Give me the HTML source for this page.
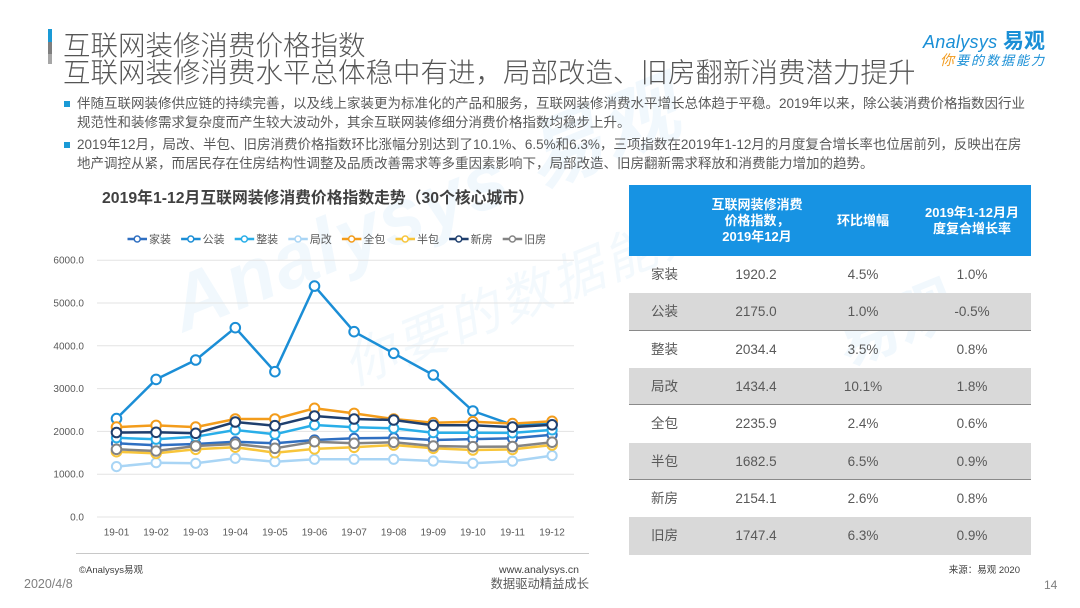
<!DOCTYPE html>
<html><head><meta charset="utf-8">
<style>
*{margin:0;padding:0;box-sizing:border-box}
html,body{width:1080px;height:608px;overflow:hidden;background:#fff}
body{position:relative;font-family:"Liberation Sans","Noto Sans CJK SC",sans-serif;color:#595959}
.a{position:absolute;white-space:nowrap}
.t{font-size:27.5px;line-height:30px;color:#555;left:63px;font-weight:300}
.b{font-size:13.5px;line-height:18px;left:77px;color:#595959}
.sq{position:absolute;left:64px;width:6px;height:6px;background:#1a9ad6}
.row{position:absolute;left:629px;width:402px;height:37.3px;font-size:13.5px;color:#595959}
.row span{position:absolute;top:0;line-height:37.3px}
.g{background:#d9d9d9}
.bl{border-bottom:1.5px solid #8a8a8a}
.c1{left:22px}
.c2{left:87px;width:80px;text-align:center}
.c3{left:194px;width:80px;text-align:center}
.c4{left:303px;width:80px;text-align:center}
.hd{position:absolute;color:#fff;font-weight:bold;font-size:13px;line-height:16px;text-align:center}
</style></head><body>

<!-- watermark -->
<div class="a" style="left:150px;top:250px;transform:rotate(-22deg);transform-origin:0 0;font-size:78px;font-style:italic;font-weight:bold;color:#f1f8fd;letter-spacing:2px">Analysys 易观</div>
<div class="a" style="left:330px;top:330px;transform:rotate(-22deg);transform-origin:0 0;font-size:52px;font-style:italic;color:#f3f9fd;letter-spacing:4px">你要的数据能力</div>
<div class="a" style="left:820px;top:300px;transform:rotate(-22deg);transform-origin:0 0;font-size:62px;font-weight:bold;color:#f1f8fd">易观</div>

<!-- header bar -->
<div class="a" style="left:48px;top:29px;width:4px;height:13px;background:#1a9ad6"></div>
<div class="a" style="left:48px;top:42px;width:4px;height:12px;background:#7f7f7f"></div>
<div class="a" style="left:48px;top:54px;width:4px;height:10px;background:#a6a6a6"></div>

<div class="a t" style="top:30.5px">互联网装修消费价格指数</div>
<div class="a t" style="top:57.5px">互联网装修消费水平总体稳中有进，局部改造、旧房翻新消费潜力提升</div>

<!-- logo -->
<div class="a" style="left:923px;top:30px;font-size:18px;line-height:24px;font-style:italic;color:#1a8fd6;letter-spacing:0.3px">Analysys</div>
<div class="a" style="left:1003px;top:29px;font-size:21px;line-height:26px;font-weight:bold;color:#1a8fd6">易观</div>
<div class="a" style="left:940px;top:51px;font-size:13px;line-height:18px;font-style:italic;color:#1a8fd6;letter-spacing:2px"><span style="color:#f29b1d;font-size:14px">你</span>要的数据能力</div>

<!-- bullets -->
<div class="sq" style="top:101px"></div>
<div class="a b" style="top:95px">伴随互联网装修供应链的持续完善，以及线上家装更为标准化的产品和服务，互联网装修消费水平增长总体趋于平稳。2019年以来，除公装消费价格指数因行业</div>
<div class="a b" style="top:114px">规范性和装修需求复杂度而产生较大波动外，其余互联网装修细分消费价格指数均稳步上升。</div>
<div class="sq" style="top:142px"></div>
<div class="a b" style="top:136px">2019年12月，局改、半包、旧房消费价格指数环比涨幅分别达到了10.1%、6.5%和6.3%，三项指数在2019年1-12月的月度复合增长率也位居前列，反映出在房</div>
<div class="a b" style="top:155px">地产调控从紧，而居民存在住房结构性调整及品质改善需求等多重因素影响下，局部改造、旧房翻新需求释放和消费能力增加的趋势。</div>

<!-- chart title -->
<div class="a" style="left:102px;top:188px;font-size:15.8px;line-height:21px;font-weight:bold;color:#404040">2019年1-12月互联网装修消费价格指数走势（30个核心城市）</div>

<svg class="a" style="left:0;top:0" width="1080" height="608" viewBox="0 0 1080 608">
<defs>
<marker id="m1" markerWidth="14" markerHeight="14" refX="7" refY="7" markerUnits="userSpaceOnUse"><circle cx="7" cy="7" r="4.6" fill="#fff" stroke="#2f6fc1" stroke-width="2"/></marker>
<marker id="m2" markerWidth="14" markerHeight="14" refX="7" refY="7" markerUnits="userSpaceOnUse"><circle cx="7" cy="7" r="4.8" fill="#fff" stroke="#1b8ed6" stroke-width="2"/></marker>
<marker id="m3" markerWidth="14" markerHeight="14" refX="7" refY="7" markerUnits="userSpaceOnUse"><circle cx="7" cy="7" r="4.6" fill="#fff" stroke="#29aee8" stroke-width="2"/></marker>
<marker id="m4" markerWidth="14" markerHeight="14" refX="7" refY="7" markerUnits="userSpaceOnUse"><circle cx="7" cy="7" r="4.6" fill="#fff" stroke="#a9d5f5" stroke-width="2"/></marker>
<marker id="m5" markerWidth="14" markerHeight="14" refX="7" refY="7" markerUnits="userSpaceOnUse"><circle cx="7" cy="7" r="4.8" fill="#fff" stroke="#f39c1b" stroke-width="2"/></marker>
<marker id="m6" markerWidth="14" markerHeight="14" refX="7" refY="7" markerUnits="userSpaceOnUse"><circle cx="7" cy="7" r="4.8" fill="#fff" stroke="#f8c53a" stroke-width="2"/></marker>
<marker id="m7" markerWidth="14" markerHeight="14" refX="7" refY="7" markerUnits="userSpaceOnUse"><circle cx="7" cy="7" r="4.8" fill="#fff" stroke="#1f3f6e" stroke-width="2"/></marker>
<marker id="m8" markerWidth="14" markerHeight="14" refX="7" refY="7" markerUnits="userSpaceOnUse"><circle cx="7" cy="7" r="4.8" fill="#fff" stroke="#848484" stroke-width="2"/></marker>
</defs>

<!-- gridlines -->
<g stroke="#e3e3e3" stroke-width="1">
<line x1="97" y1="260.2" x2="574" y2="260.2"/>
<line x1="97" y1="303" x2="574" y2="303"/>
<line x1="97" y1="345.8" x2="574" y2="345.8"/>
<line x1="97" y1="388.6" x2="574" y2="388.6"/>
<line x1="97" y1="431.4" x2="574" y2="431.4"/>
<line x1="97" y1="474.2" x2="574" y2="474.2"/>
<line x1="97" y1="517" x2="574" y2="517"/>
</g>

<g font-family="Liberation Sans, sans-serif" font-size="10" fill="#595959" text-anchor="end">
<text x="84" y="263.7">6000.0</text>
<text x="84" y="306.5">5000.0</text>
<text x="84" y="349.3">4000.0</text>
<text x="84" y="392.1">3000.0</text>
<text x="84" y="434.9">2000.0</text>
<text x="84" y="477.7">1000.0</text>
<text x="84" y="520.5">0.0</text>
</g>
<g font-family="Liberation Sans, sans-serif" font-size="10" fill="#595959" text-anchor="middle">
<text x="116.5" y="535.5">19-01</text>
<text x="156.1" y="535.5">19-02</text>
<text x="195.7" y="535.5">19-03</text>
<text x="235.3" y="535.5">19-04</text>
<text x="274.9" y="535.5">19-05</text>
<text x="314.5" y="535.5">19-06</text>
<text x="354.1" y="535.5">19-07</text>
<text x="393.7" y="535.5">19-08</text>
<text x="433.3" y="535.5">19-09</text>
<text x="472.9" y="535.5">19-10</text>
<text x="512.5" y="535.5">19-11</text>
<text x="552.1" y="535.5">19-12</text>
</g>

<g fill="none" stroke-width="2.5" stroke-linejoin="round">
<polyline stroke="#2f6fc1" marker-start="url(#m1)" marker-mid="url(#m1)" marker-end="url(#m1)" points="116.5,443.3 156.1,445.3 195.7,444.0 235.3,441.7 274.9,443.3 314.5,440.0 354.1,438.3 393.7,437.8 433.3,440.0 472.9,439.1 512.5,438.3 552.1,434.8"/>
<polyline stroke="#1b8ed6" marker-start="url(#m2)" marker-mid="url(#m2)" marker-end="url(#m2)" points="116.5,418.6 156.1,379.4 195.7,360.0 235.3,327.7 274.9,371.7 314.5,286.1 354.1,331.7 393.7,353.3 433.3,375.0 472.9,411.0 512.5,424.9 552.1,423.9"/>
<polyline stroke="#29aee8" marker-start="url(#m3)" marker-mid="url(#m3)" marker-end="url(#m3)" points="116.5,437.8 156.1,439.3 195.7,436.7 235.3,430.0 274.9,434.3 314.5,425.0 354.1,427.3 393.7,428.3 433.3,432.7 472.9,432.7 512.5,432.9 552.1,429.9"/>
<polyline stroke="#a9d5f5" marker-start="url(#m4)" marker-mid="url(#m4)" marker-end="url(#m4)" points="116.5,466.6 156.1,462.7 195.7,463.3 235.3,458.3 274.9,461.7 314.5,459.3 354.1,459.3 393.7,459.3 433.3,461.0 472.9,463.3 512.5,461.2 552.1,455.6"/>
<polyline stroke="#f39c1b" marker-start="url(#m5)" marker-mid="url(#m5)" marker-end="url(#m5)" points="116.5,427.1 156.1,425.4 195.7,427.1 235.3,419.0 274.9,419.0 314.5,408.3 354.1,413.4 393.7,419.0 433.3,422.7 472.9,421.7 512.5,423.6 552.1,421.3"/>
<polyline stroke="#f8c53a" marker-start="url(#m6)" marker-mid="url(#m6)" marker-end="url(#m6)" points="116.5,451.7 156.1,453.4 195.7,449.3 235.3,447.2 274.9,452.7 314.5,448.9 354.1,447.3 393.7,445.0 433.3,448.3 472.9,450.0 512.5,449.4 552.1,445.0"/>
<polyline stroke="#1f3f6e" marker-start="url(#m7)" marker-mid="url(#m7)" marker-end="url(#m7)" points="116.5,432.5 156.1,432.3 195.7,433.3 235.3,422.0 274.9,425.7 314.5,416.0 354.1,419.0 393.7,420.0 433.3,425.3 472.9,425.3 512.5,427.1 552.1,424.8"/>
<polyline stroke="#848484" marker-start="url(#m8)" marker-mid="url(#m8)" marker-end="url(#m8)" points="116.5,449.3 156.1,451.0 195.7,446.0 235.3,444.0 274.9,448.3 314.5,441.7 354.1,443.3 393.7,442.3 433.3,446.0 472.9,446.7 512.5,446.6 552.1,442.2"/>
</g>

<!-- legend -->
<g stroke-width="2.5">
<line x1="127.5" y1="239" x2="147" y2="239" stroke="#2f6fc1"/><circle cx="137.2" cy="239" r="3" fill="#fff" stroke="#2f6fc1" stroke-width="1.5"/>
<line x1="181.1" y1="239" x2="200.6" y2="239" stroke="#1b8ed6"/><circle cx="190.8" cy="239" r="3" fill="#fff" stroke="#1b8ed6" stroke-width="1.5"/>
<line x1="234.7" y1="239" x2="254.2" y2="239" stroke="#29aee8"/><circle cx="244.4" cy="239" r="3" fill="#fff" stroke="#29aee8" stroke-width="1.5"/>
<line x1="288.3" y1="239" x2="307.8" y2="239" stroke="#a9d5f5"/><circle cx="298" cy="239" r="3" fill="#fff" stroke="#a9d5f5" stroke-width="1.5"/>
<line x1="341.9" y1="239" x2="361.4" y2="239" stroke="#f39c1b"/><circle cx="351.6" cy="239" r="3" fill="#fff" stroke="#f39c1b" stroke-width="1.5"/>
<line x1="395.5" y1="239" x2="415" y2="239" stroke="#f8c53a"/><circle cx="405.2" cy="239" r="3" fill="#fff" stroke="#f8c53a" stroke-width="1.5"/>
<line x1="449.1" y1="239" x2="468.6" y2="239" stroke="#1f3f6e"/><circle cx="458.8" cy="239" r="3" fill="#fff" stroke="#1f3f6e" stroke-width="1.5"/>
<line x1="502.7" y1="239" x2="522.2" y2="239" stroke="#848484"/><circle cx="512.4" cy="239" r="3" fill="#fff" stroke="#848484" stroke-width="1.5"/>
</g>
<g font-family="Liberation Sans, Noto Sans CJK SC, sans-serif" font-size="11" fill="#595959">
<text x="149" y="242.8">家装</text>
<text x="202.6" y="242.8">公装</text>
<text x="256.2" y="242.8">整装</text>
<text x="309.8" y="242.8">局改</text>
<text x="363.4" y="242.8">全包</text>
<text x="417" y="242.8">半包</text>
<text x="470.6" y="242.8">新房</text>
<text x="524.2" y="242.8">旧房</text>
</g>
</svg>

<!-- table -->
<div class="a" style="left:629px;top:185px;width:402px;height:71px;background:#1793e3"></div>
<div class="hd" style="left:696px;top:197px;width:122px">互联网装修消费<br>价格指数，<br>2019年12月</div>
<div class="hd" style="left:813px;top:213px;width:100px">环比增幅</div>
<div class="hd" style="left:912px;top:205px;width:120px">2019年1-12月月<br>度复合增长率</div>

<div class="row" style="top:256px"><span class="c1">家装</span><span class="c2">1920.2</span><span class="c3">4.5%</span><span class="c4">1.0%</span></div>
<div class="row g bl" style="top:293.3px"><span class="c1">公装</span><span class="c2">2175.0</span><span class="c3">1.0%</span><span class="c4">-0.5%</span></div>
<div class="row" style="top:330.7px"><span class="c1">整装</span><span class="c2">2034.4</span><span class="c3">3.5%</span><span class="c4">0.8%</span></div>
<div class="row g bl" style="top:368px"><span class="c1">局改</span><span class="c2">1434.4</span><span class="c3">10.1%</span><span class="c4">1.8%</span></div>
<div class="row" style="top:405.3px"><span class="c1">全包</span><span class="c2">2235.9</span><span class="c3">2.4%</span><span class="c4">0.6%</span></div>
<div class="row g bl" style="top:442.7px"><span class="c1">半包</span><span class="c2">1682.5</span><span class="c3">6.5%</span><span class="c4">0.9%</span></div>
<div class="row" style="top:480px"><span class="c1">新房</span><span class="c2">2154.1</span><span class="c3">2.6%</span><span class="c4">0.8%</span></div>
<div class="row g" style="top:517.3px"><span class="c1">旧房</span><span class="c2">1747.4</span><span class="c3">6.3%</span><span class="c4">0.9%</span></div>

<div class="a" style="right:60px;top:564px;font-size:9.5px;line-height:14px;color:#404040">来源：易观 2020</div>
<div class="a" style="left:1044px;top:577px;font-size:12px;line-height:16px;color:#7f7f7f">14</div>

<!-- footer -->
<div class="a" style="left:76px;top:553px;width:513px;height:1px;background:#c8c8c8"></div>
<div class="a" style="left:79px;top:564px;font-size:9.5px;line-height:14px;color:#404040">©Analysys易观</div>
<div class="a" style="right:501px;top:563px;font-size:10.5px;line-height:14px;color:#404040">www.analysys.cn</div>
<div class="a" style="left:24px;top:576px;font-size:12.5px;line-height:16px;color:#7f7f7f">2020/4/8</div>
<div class="a" style="right:491px;top:576px;font-size:12.3px;line-height:16px;color:#595959">数据驱动精益成长</div>

</body></html>
